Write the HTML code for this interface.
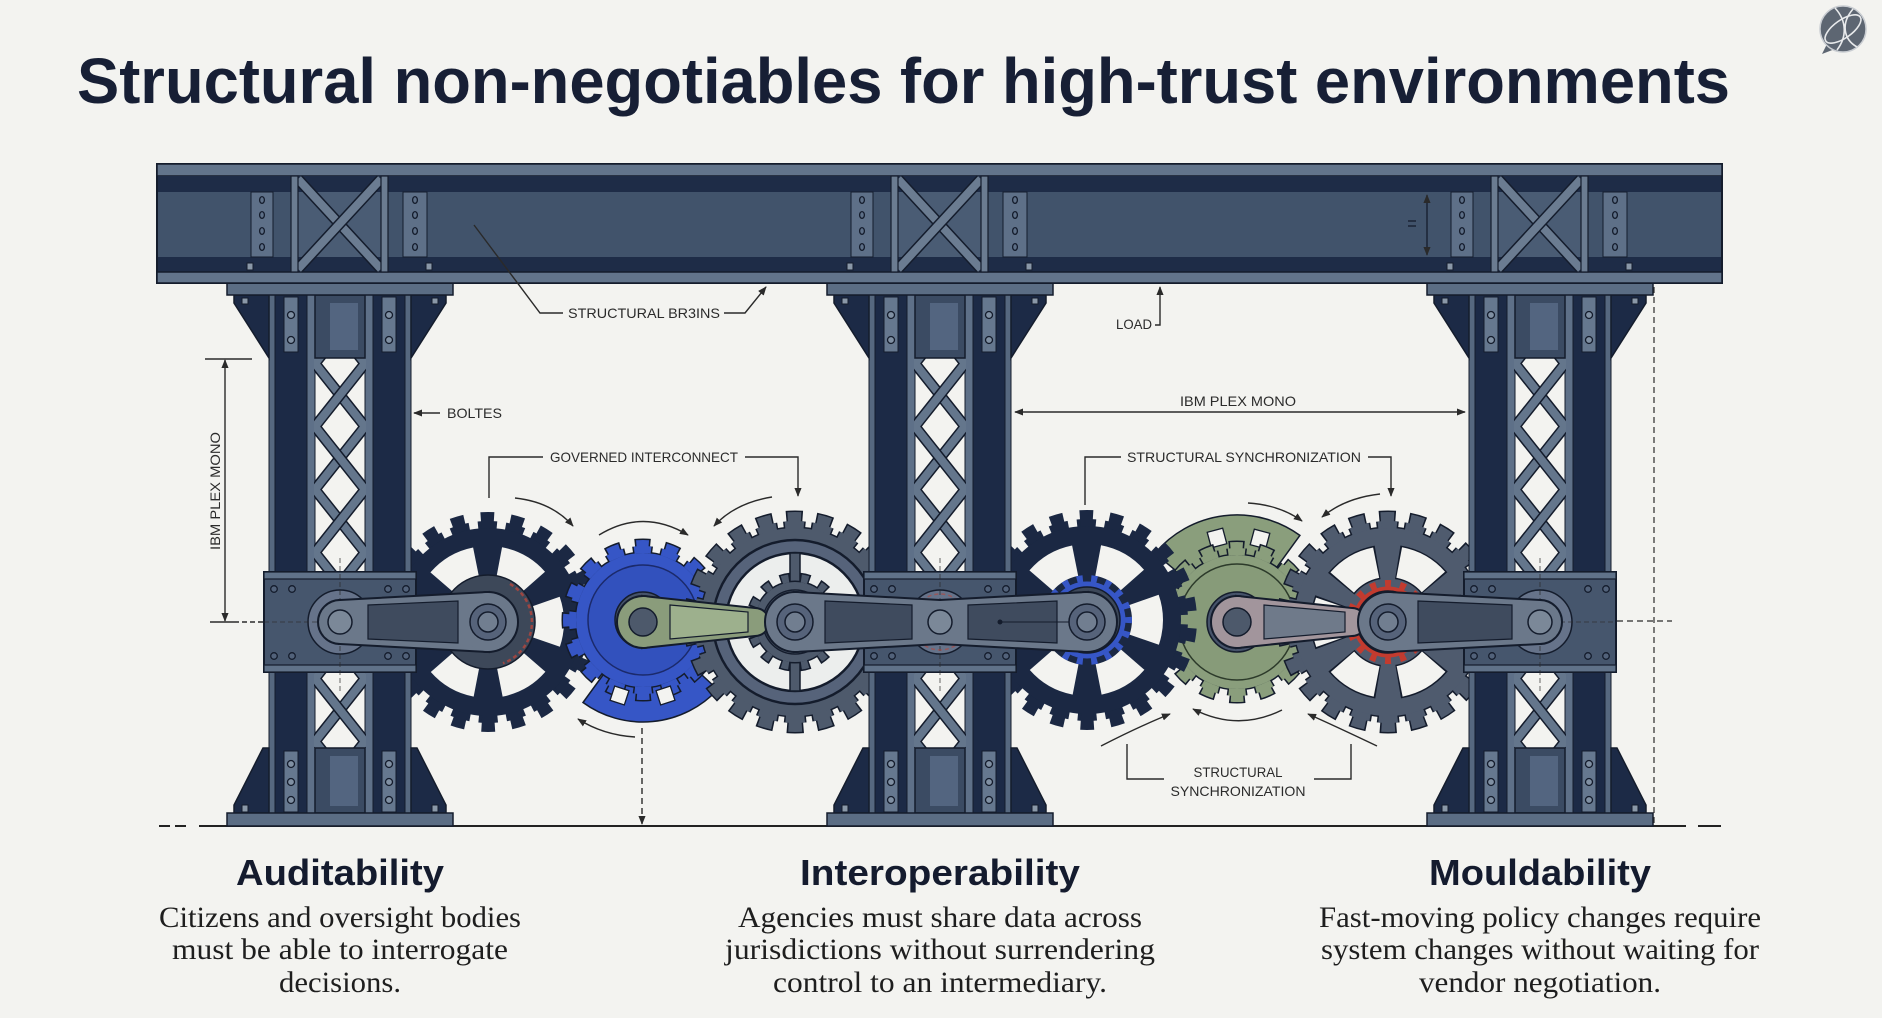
<!DOCTYPE html>
<html><head><meta charset="utf-8"><style>
html,body{margin:0;padding:0;background:#f3f3f0;}
svg{display:block;}
</style></head><body>
<svg width="1882" height="1018" viewBox="0 0 1882 1018" xmlns="http://www.w3.org/2000/svg">
<defs>
<marker id="ah" viewBox="0 0 10 10" refX="9" refY="5" markerWidth="9" markerHeight="9" markerUnits="userSpaceOnUse" orient="auto-start-reverse"><path d="M0,1 L10,5 L0,9 z" fill="#2a2a2a"/></marker>
<clipPath id="latclip"><rect x="-26" y="358" width="52" height="390"/></clipPath>
<g id="col">
<rect x="-71" y="295" width="142" height="518" fill="#1c2a46"/>
<rect x="-25" y="358" width="50" height="390" fill="#f3f3f0"/>
<rect x="-71" y="295" width="6" height="518" fill="#56687f" stroke="#141c2c" stroke-width="1"/>
<rect x="65" y="295" width="6" height="518" fill="#56687f" stroke="#141c2c" stroke-width="1"/>
<rect x="-33" y="295" width="8" height="518" fill="#5e7088" stroke="#141c2c" stroke-width="1"/>
<rect x="25" y="295" width="8" height="518" fill="#5e7088" stroke="#141c2c" stroke-width="1"/>
<g clip-path="url(#latclip)" fill="none">
<polyline points="25,300.5 -25,363.5 25,426.5 -25,489.5 25,552.5 -25,615.5 25,678.5 -25,741.5 25,804.5" stroke="#141c2c" stroke-width="11"/>
<polyline points="25,300.5 -25,363.5 25,426.5 -25,489.5 25,552.5 -25,615.5 25,678.5 -25,741.5 25,804.5" stroke="#64768c" stroke-width="8"/>
<polyline points="-25,300.5 25,363.5 -25,426.5 25,489.5 -25,552.5 25,615.5 -25,678.5 25,741.5 -25,804.5" stroke="#141c2c" stroke-width="11"/>
<polyline points="-25,300.5 25,363.5 -25,426.5 25,489.5 -25,552.5 25,615.5 -25,678.5 25,741.5 -25,804.5" stroke="#64768c" stroke-width="8"/>
</g>
<rect x="-25" y="295" width="50" height="63" fill="#3b4b63" stroke="#141c2c" stroke-width="1.5"/>
<rect x="-10" y="303" width="28" height="47" fill="#536580"/>
<rect x="-25" y="748" width="50" height="65" fill="#3b4b63" stroke="#141c2c" stroke-width="1.5"/>
<rect x="-10" y="756" width="28" height="50" fill="#536580"/>
<polygon points="-106,295 -71,295 -71,358 -106,303" fill="#1c2a46" stroke="#141c2c" stroke-width="1.5"/>
<polygon points="106,295 71,295 71,358 106,303" fill="#1c2a46" stroke="#141c2c" stroke-width="1.5"/>
<polygon points="-77,748 -71,748 -71,813 -106,813 -106,805" fill="#1c2a46" stroke="#141c2c" stroke-width="1.5"/>
<polygon points="77,748 71,748 71,813 106,813 106,805" fill="#1c2a46" stroke="#141c2c" stroke-width="1.5"/>
<rect x="-113" y="283" width="226" height="12" fill="#5b6d84" stroke="#141c2c" stroke-width="1.5"/>
<rect x="-113" y="813" width="226" height="13" fill="#5b6d84" stroke="#141c2c" stroke-width="1.5"/>
<g fill="#66788f" stroke="#141c2c" stroke-width="1">
<rect x="-56" y="297" width="14" height="55"/><rect x="42" y="297" width="14" height="55"/>
<rect x="-56" y="751" width="14" height="61"/><rect x="42" y="751" width="14" height="61"/>
</g>
<g fill="#8090a3" stroke="#141c2c" stroke-width="1.3">
<circle cx="-49" cy="315" r="3.5"/><circle cx="-49" cy="340" r="3.5"/>
<circle cx="49" cy="315" r="3.5"/><circle cx="49" cy="340" r="3.5"/>
<circle cx="-49" cy="764" r="3.5"/><circle cx="-49" cy="782" r="3.5"/><circle cx="-49" cy="800" r="3.5"/>
<circle cx="49" cy="764" r="3.5"/><circle cx="49" cy="782" r="3.5"/><circle cx="49" cy="800" r="3.5"/>
</g>
<g fill="#8a98a8" stroke="#141c2c" stroke-width="1">
<rect x="-98" y="298" width="6" height="6"/><rect x="92" y="298" width="6" height="6"/>
<rect x="-98" y="805" width="6" height="7"/><rect x="92" y="805" width="6" height="7"/>
</g>
</g>
<g id="stiff">
<rect x="-49" y="192" width="97" height="65" fill="#4a5c74"/>
<rect x="-89" y="192" width="22" height="65" fill="#5e7088" stroke="#141c2c" stroke-width="1"/>
<rect x="63" y="192" width="24" height="65" fill="#5e7088" stroke="#141c2c" stroke-width="1"/>
<g fill="none" stroke="#141c2c" stroke-width="1.3">
<ellipse cx="-78" cy="200" rx="2.4" ry="3.4"/><ellipse cx="-78" cy="215" rx="2.4" ry="3.4"/><ellipse cx="-78" cy="231" rx="2.4" ry="3.4"/><ellipse cx="-78" cy="247" rx="2.4" ry="3.4"/>
<ellipse cx="75" cy="200" rx="2.4" ry="3.4"/><ellipse cx="75" cy="215" rx="2.4" ry="3.4"/><ellipse cx="75" cy="231" rx="2.4" ry="3.4"/><ellipse cx="75" cy="247" rx="2.4" ry="3.4"/>
</g>
<line x1="-42" y1="179" x2="41" y2="269" stroke="#141c2c" stroke-width="11"/>
<line x1="-42" y1="179" x2="41" y2="269" stroke="#6b7c91" stroke-width="8"/>
<line x1="41" y1="179" x2="-42" y2="269" stroke="#141c2c" stroke-width="11"/>
<line x1="41" y1="179" x2="-42" y2="269" stroke="#6b7c91" stroke-width="8"/>
<rect x="-49" y="176" width="7" height="96" fill="#6b7c91" stroke="#141c2c" stroke-width="1.2"/>
<rect x="41" y="176" width="7" height="96" fill="#6b7c91" stroke="#141c2c" stroke-width="1.2"/>
<rect x="-93" y="263" width="6" height="7" fill="#8a98a8" stroke="#141c2c" stroke-width="1"/>
<rect x="86" y="263" width="6" height="7" fill="#8a98a8" stroke="#141c2c" stroke-width="1"/>
</g>
<g id="mount">
<rect x="-76" y="572" width="152" height="100" fill="#46566d" stroke="#141c2c" stroke-width="2"/>
<rect x="-76" y="572" width="152" height="7" fill="#607289" stroke="#141c2c" stroke-width="1.2"/>
<rect x="-76" y="665" width="152" height="7" fill="#607289" stroke="#141c2c" stroke-width="1.2"/>
<g fill="#52627a" stroke="#141c2c" stroke-width="1.3">
<circle cx="-66" cy="589" r="3.3"/><circle cx="-48" cy="589" r="3.3"/><circle cx="48" cy="589" r="3.3"/><circle cx="66" cy="589" r="3.3"/>
<circle cx="-66" cy="656" r="3.3"/><circle cx="-48" cy="656" r="3.3"/><circle cx="48" cy="656" r="3.3"/><circle cx="66" cy="656" r="3.3"/>
</g>
<circle cx="0" cy="622" r="32" fill="#66738a" stroke="#141c2c" stroke-width="1.5"/>
<line x1="0" y1="558" x2="0" y2="692" stroke="#2a2a2a" stroke-width="1" stroke-dasharray="5 3" opacity=".7"/>
<line x1="-76" y1="622" x2="76" y2="622" stroke="#2a2a2a" stroke-width="1" stroke-dasharray="5 3" opacity=".6"/>
</g>
</defs>

<rect width="1882" height="1018" fill="#f3f3f0"/>

<!-- Title -->
<text x="77" y="103" font-family="'Liberation Sans', Arial, sans-serif" font-weight="700" font-size="64" fill="#171f35" textLength="1653" lengthAdjust="spacingAndGlyphs">Structural non-negotiables for high-trust environments</text>

<!-- Logo -->
<g transform="translate(1843,29)">
<path d="M-16,15 L-21,25 L-8,20 z" fill="#5d6672"/>
<circle r="23" fill="#5d6672" stroke="#c9cdd2" stroke-width="1.5"/>
<g fill="none" stroke="#e8eaec" stroke-width="1.6">
<ellipse rx="21" ry="9" transform="rotate(-35)"/>
<path d="M-8,-21 C4,-8 4,8 -6,21"/>
<path d="M10,-20 C-2,-6 0,10 14,18"/>
</g>
</g>

<!-- Ground line -->
<line x1="199" y1="826" x2="1686" y2="826" stroke="#222" stroke-width="2"/>
<line x1="159" y1="826" x2="170" y2="826" stroke="#222" stroke-width="2"/>
<line x1="175" y1="826" x2="186" y2="826" stroke="#222" stroke-width="2"/>
<line x1="1698" y1="826" x2="1721" y2="826" stroke="#222" stroke-width="2"/>

<!-- ===== GEARS ===== -->
<!-- Gear 1 navy -->
<g>
<circle cx="488" cy="622" r="97" fill="none" stroke="#1b2843" stroke-width="8" pathLength="360" stroke-dasharray="11.2 5.1636" stroke-dashoffset="-2.58"/>
<circle cx="488" cy="622" r="101.5" fill="none" stroke="#1b2843" stroke-width="17" pathLength="360" stroke-dasharray="7.34 9.0236" stroke-dashoffset="-4.51"/>
<circle cx="488" cy="622" r="94" fill="#1b2843"/>
<circle cx="488" cy="622" r="60.5" fill="none" stroke="#f3f3f0" stroke-width="31" pathLength="360" stroke-dasharray="38 22" stroke-dashoffset="19"/>
<circle cx="488" cy="622" r="47" fill="#3d4859" stroke="#141c2c" stroke-width="1.5"/>
<path d="M510,583.9 A44 44 0 0 1 503,663.3" fill="none" stroke="#b5463c" stroke-width="2.5" stroke-dasharray="4 3" opacity=".8"/>
</g>

<!-- Gear 2 blue -->
<g>
<path d="M717.6,689.6 A102 102 0 0 1 583,702.5 L607.7,668.5 A60 60 0 0 0 686.9,660.9 Z" fill="#3656c6" stroke="#141c2c" stroke-width="1.5"/>
<circle cx="643" cy="620" r="70.5" fill="none" stroke="#141c2c" stroke-width="7" pathLength="360" stroke-dasharray="16.25 6.25" stroke-dashoffset="8.13"/>
<circle cx="643" cy="620" r="73.5" fill="none" stroke="#141c2c" stroke-width="16" pathLength="360" stroke-dasharray="11.7 10.8" stroke-dashoffset="5.85"/>
<circle cx="643" cy="620" r="68.5" fill="#141c2c"/>
<circle cx="643" cy="620" r="70.5" fill="none" stroke="#3656c6" stroke-width="7" pathLength="360" stroke-dasharray="13.8 8.7" stroke-dashoffset="6.9"/>
<circle cx="643" cy="620" r="73.5" fill="none" stroke="#3656c6" stroke-width="13" pathLength="360" stroke-dasharray="9.35 13.15" stroke-dashoffset="4.675"/>
<circle cx="643" cy="620" r="67" fill="#3656c6"/>
<rect x="612" y="688" width="15" height="15" fill="#f3f3f0" stroke="#141c2c" stroke-width="1.3" transform="rotate(18 619.5 695.5)"/>
<rect x="658" y="688" width="15" height="15" fill="#f3f3f0" stroke="#141c2c" stroke-width="1.3" transform="rotate(-18 665.5 695.5)"/>
<circle cx="643" cy="620" r="55" fill="#3251bd" stroke="#1b2a6b" stroke-width="1.5"/>
<circle cx="643" cy="620" r="28" fill="#46536a" stroke="#141c2c" stroke-width="1.5"/>
</g>

<!-- Gear 3 gray -->
<g>
<circle cx="795" cy="622" r="97" fill="none" stroke="#141c2c" stroke-width="8" pathLength="360" stroke-dasharray="13 3.3636" stroke-dashoffset="-1.68"/>
<circle cx="795" cy="622" r="101.5" fill="none" stroke="#141c2c" stroke-width="20" pathLength="360" stroke-dasharray="9.03 7.3336" stroke-dashoffset="-3.66"/>
<circle cx="795" cy="622" r="95.5" fill="#141c2c"/>
<circle cx="795" cy="622" r="97" fill="none" stroke="#4e5a6c" stroke-width="8" pathLength="360" stroke-dasharray="11.2 5.1636" stroke-dashoffset="-2.58"/>
<circle cx="795" cy="622" r="101.5" fill="none" stroke="#4e5a6c" stroke-width="17" pathLength="360" stroke-dasharray="7.34 9.0236" stroke-dashoffset="-4.51"/>
<circle cx="795" cy="622" r="94" fill="#4e5a6c"/>
<circle cx="795" cy="622" r="82" fill="#56637a" stroke="#141c2c" stroke-width="2.5"/>
<circle cx="795" cy="622" r="69" fill="#eceeed" stroke="#141c2c" stroke-width="2.5"/>
<rect x="790" y="553" width="10" height="138" fill="#4e5a6c" stroke="#141c2c" stroke-width="1.5"/>
<circle cx="795" cy="622" r="44" fill="none" stroke="#141c2c" stroke-width="11" pathLength="360" stroke-dasharray="13 12.714" stroke-dashoffset="6.5"/>
<circle cx="795" cy="622" r="41.5" fill="#141c2c"/>
<circle cx="795" cy="622" r="44" fill="none" stroke="#4e5a6c" stroke-width="8" pathLength="360" stroke-dasharray="9.1 16.614" stroke-dashoffset="4.55"/>
<circle cx="795" cy="622" r="40" fill="#4e5a6c"/>
<circle cx="795" cy="622" r="32" fill="#5c697c" stroke="#141c2c" stroke-width="1.5"/>
</g>

<!-- Gear 5 green (behind gear 4) -->
<g>
<path d="M1155,553.2 A107 107 0 0 1 1299.9,535.4 L1272.3,573.5 A60 60 0 0 0 1191,583.4 Z" fill="#8a9e7c" stroke="#141c2c" stroke-width="1.5"/>
<rect x="1209" y="530" width="16" height="16" fill="#f3f3f0" stroke="#141c2c" stroke-width="1.3" transform="rotate(-15 1217 538)"/>
<rect x="1252" y="531" width="16" height="16" fill="#f3f3f0" stroke="#141c2c" stroke-width="1.3" transform="rotate(15 1260 539)"/>
<circle cx="1237" cy="622" r="70.5" fill="none" stroke="#141c2c" stroke-width="7" pathLength="360" stroke-dasharray="16.25 6.25" stroke-dashoffset="8.13"/>
<circle cx="1237" cy="622" r="73.5" fill="none" stroke="#141c2c" stroke-width="16" pathLength="360" stroke-dasharray="11.7 10.8" stroke-dashoffset="5.85"/>
<circle cx="1237" cy="622" r="68.5" fill="#141c2c"/>
<circle cx="1237" cy="622" r="70.5" fill="none" stroke="#8a9e7c" stroke-width="7" pathLength="360" stroke-dasharray="13.8 8.7" stroke-dashoffset="6.9"/>
<circle cx="1237" cy="622" r="73.5" fill="none" stroke="#8a9e7c" stroke-width="13" pathLength="360" stroke-dasharray="9.35 13.15" stroke-dashoffset="4.675"/>
<circle cx="1237" cy="622" r="67" fill="#8a9e7c"/>
<circle cx="1237" cy="622" r="58" fill="#879b79" stroke="#2c3a2a" stroke-width="1.5"/>
<circle cx="1237" cy="622" r="30" fill="#46536a" stroke="#141c2c" stroke-width="1.5"/>
</g>

<!-- Gear 4 navy -->
<g>
<circle cx="1087" cy="620" r="97" fill="none" stroke="#1b2843" stroke-width="8" pathLength="360" stroke-dasharray="11.2 5.1636" stroke-dashoffset="-2.58"/>
<circle cx="1087" cy="620" r="101.5" fill="none" stroke="#1b2843" stroke-width="17" pathLength="360" stroke-dasharray="7.34 9.0236" stroke-dashoffset="-4.51"/>
<circle cx="1087" cy="620" r="94" fill="#1b2843"/>
<circle cx="1087" cy="620" r="60.5" fill="none" stroke="#f3f3f0" stroke-width="31" pathLength="360" stroke-dasharray="38 22" stroke-dashoffset="19"/>
<circle cx="1087" cy="620" r="41.5" fill="none" stroke="#3656c6" stroke-width="7" pathLength="360" stroke-dasharray="8.3 11.7" stroke-dashoffset="4.15"/>
<circle cx="1087" cy="620" r="38.5" fill="#3656c6"/>
<circle cx="1087" cy="620" r="33" fill="#3d4859" stroke="#141c2c" stroke-width="1.5"/>
</g>

<!-- Gear 6 gray -->
<g>
<circle cx="1388" cy="622" r="97" fill="none" stroke="#141c2c" stroke-width="8" pathLength="360" stroke-dasharray="13 3.3636" stroke-dashoffset="-1.68"/>
<circle cx="1388" cy="622" r="101.5" fill="none" stroke="#141c2c" stroke-width="20" pathLength="360" stroke-dasharray="9.03 7.3336" stroke-dashoffset="-3.66"/>
<circle cx="1388" cy="622" r="95.5" fill="#141c2c"/>
<circle cx="1388" cy="622" r="97" fill="none" stroke="#4f5b6e" stroke-width="8" pathLength="360" stroke-dasharray="11.2 5.1636" stroke-dashoffset="-2.58"/>
<circle cx="1388" cy="622" r="101.5" fill="none" stroke="#4f5b6e" stroke-width="17" pathLength="360" stroke-dasharray="7.34 9.0236" stroke-dashoffset="-4.51"/>
<circle cx="1388" cy="622" r="94" fill="#4f5b6e"/>
<circle cx="1388" cy="622" r="60.5" fill="none" stroke="#141c2c" stroke-width="34" pathLength="360" stroke-dasharray="40.84 19.16" stroke-dashoffset="20.42"/>
<circle cx="1388" cy="622" r="60.5" fill="none" stroke="#f3f3f0" stroke-width="31" pathLength="360" stroke-dasharray="38 22" stroke-dashoffset="19"/>
<circle cx="1388" cy="622" r="38.5" fill="none" stroke="#c23b2f" stroke-width="7" pathLength="360" stroke-dasharray="8.9 13.6" stroke-dashoffset="4.45"/>
<circle cx="1388" cy="622" r="35.5" fill="#c23b2f"/>
<circle cx="1388" cy="622" r="31" fill="#3d4859" stroke="#141c2c" stroke-width="1.5"/>
</g>

<!-- ===== COLUMNS ===== -->
<use href="#col" x="340"/>
<use href="#col" x="940"/>
<use href="#col" x="1540"/>

<!-- ===== BEAM ===== -->
<rect x="157" y="164" width="1565" height="119" fill="#41536b" stroke="#141c2c" stroke-width="2"/>
<rect x="157" y="164" width="1565" height="12" fill="#62748b" stroke="#141c2c" stroke-width="1.5"/>
<rect x="158" y="176" width="1563" height="16" fill="#1e2c47"/>
<rect x="158" y="257" width="1563" height="15" fill="#1e2c47"/>
<rect x="157" y="272" width="1565" height="11" fill="#62748b" stroke="#141c2c" stroke-width="1.5"/>
<use href="#stiff" x="340"/>
<use href="#stiff" x="940"/>
<use href="#stiff" x="1540"/>
<line x1="1427" y1="195" x2="1427" y2="255" stroke="#141c2c" stroke-width="1.3" marker-start="url(#ah)" marker-end="url(#ah)"/>
<line x1="1408" y1="221" x2="1416" y2="221" stroke="#141c2c" stroke-width="1.3"/>
<line x1="1408" y1="226" x2="1416" y2="226" stroke="#141c2c" stroke-width="1.3"/>

<!-- ===== MOUNTS ===== -->
<use href="#mount" x="340"/>
<use href="#mount" x="940"/>
<use href="#mount" x="1540"/>
<circle cx="940" cy="622" r="28" fill="none" stroke="#b5463c" stroke-width="1.5" stroke-dasharray="4 3" opacity=".6"/>

<!-- ===== ARMS ===== -->
<g stroke="#141c2c" stroke-width="4" fill="#141c2c">
<polygon points="643,597 755,609 755,635 643,647"/><circle cx="643" cy="622" r="25"/><circle cx="755" cy="622" r="13"/>
<polygon points="1237,597 1352,609 1352,635 1237,647"/><circle cx="1237" cy="622" r="25"/><circle cx="1352" cy="622" r="13"/>
</g>
<g fill="#8a9c7b">
<polygon points="643,597 755,609 755,635 643,647"/><circle cx="643" cy="622" r="25"/><circle cx="755" cy="622" r="13"/>
</g>
<g fill="#a2959c">
<polygon points="1237,597 1352,609 1352,635 1237,647"/><circle cx="1237" cy="622" r="25"/><circle cx="1352" cy="622" r="13"/>
</g>
<polygon points="670,605 748,612 748,632 670,639" fill="#9db08d" stroke="#141c2c" stroke-width="1.2"/>
<polygon points="1264,605 1345,612 1345,632 1264,639" fill="#6f7a8a" stroke="#141c2c" stroke-width="1.2"/>
<circle cx="643" cy="622" r="14" fill="#4d596b" stroke="#141c2c" stroke-width="1.5"/>
<circle cx="1237" cy="622" r="14" fill="#4d596b" stroke="#141c2c" stroke-width="1.5"/>

<g stroke="#141c2c" stroke-width="4" fill="#141c2c">
<polygon points="340,601 488,593 488,651 340,643"/><circle cx="488" cy="622" r="29"/><circle cx="340" cy="622" r="21"/>
<polygon points="795,593 940,601 940,643 795,651"/><circle cx="795" cy="622" r="29"/><circle cx="940" cy="622" r="21"/>
<polygon points="940,601 1087,593 1087,651 940,643"/><circle cx="1087" cy="622" r="29"/>
<polygon points="1388,593 1540,601 1540,643 1388,651"/><circle cx="1388" cy="622" r="29"/><circle cx="1540" cy="622" r="21"/>
</g>
<g fill="#6b788a">
<polygon points="340,601 488,593 488,651 340,643"/><circle cx="488" cy="622" r="29"/><circle cx="340" cy="622" r="21"/>
<polygon points="795,593 940,601 940,643 795,651"/><circle cx="795" cy="622" r="29"/><circle cx="940" cy="622" r="21"/>
<polygon points="940,601 1087,593 1087,651 940,643"/><circle cx="1087" cy="622" r="29"/>
<polygon points="1388,593 1540,601 1540,643 1388,651"/><circle cx="1388" cy="622" r="29"/><circle cx="1540" cy="622" r="21"/>
</g>
<g fill="#3f4b5e" stroke="#141c2c" stroke-width="1.2">
<polygon points="368,605 458,601 458,643 368,639"/>
<polygon points="825,601 912,605 912,639 825,643"/>
<polygon points="968,605 1057,601 1057,643 968,639"/>
<polygon points="1418,601 1512,605 1512,639 1418,643"/>
</g>
<line x1="1000" y1="622" x2="1087" y2="622" stroke="#141c2c" stroke-width="1"/>
<circle cx="1000" cy="622" r="2.5" fill="#141c2c"/>
<g stroke="#141c2c" stroke-width="1.5">
<circle cx="488" cy="622" r="18" fill="#56637a"/><circle cx="488" cy="622" r="10" fill="#717e90"/>
<circle cx="795" cy="622" r="18" fill="#56637a"/><circle cx="795" cy="622" r="10" fill="#717e90"/>
<circle cx="1087" cy="622" r="18" fill="#56637a"/><circle cx="1087" cy="622" r="10" fill="#717e90"/>
<circle cx="1388" cy="622" r="18" fill="#56637a"/><circle cx="1388" cy="622" r="10" fill="#717e90"/>
<circle cx="340" cy="622" r="12" fill="#7b8898"/>
<circle cx="940" cy="622" r="12" fill="#7b8898"/>
<circle cx="1540" cy="622" r="12" fill="#7b8898"/>
</g>

<!-- ===== ANNOTATIONS ===== -->
<g fill="none" stroke="#2a2a2a" stroke-width="1.4">
<polyline points="474,225 540,313 563,313"/>
<polyline points="724,313 745,313 766,287" marker-end="url(#ah)"/>
<polyline points="1155,325 1160,325 1160,287" marker-end="url(#ah)"/>
<line x1="1015" y1="412" x2="1465" y2="412" marker-start="url(#ah)" marker-end="url(#ah)"/>
<line x1="440" y1="413" x2="414" y2="413" marker-end="url(#ah)"/>
<line x1="225" y1="360" x2="225" y2="621" marker-start="url(#ah)" marker-end="url(#ah)"/>
<line x1="205" y1="359" x2="252" y2="359"/>
<line x1="210" y1="622" x2="234" y2="622"/>
<line x1="234" y1="622" x2="263" y2="622" stroke-dasharray="5 3"/>
<polyline points="489,498 489,457 543,457"/>
<polyline points="745,457 798,457 798,496" marker-end="url(#ah)"/>
<polyline points="1085,505 1085,457 1121,457"/>
<polyline points="1368,457 1391,457 1391,496" marker-end="url(#ah)"/>
<polyline points="1127,744 1127,779 1164,779"/>
<polyline points="1314,779 1351,779 1351,744"/>
<path d="M515,498 Q552,502 573,526" marker-end="url(#ah)"/>
<path d="M599,535 Q643,508 688,535" marker-end="url(#ah)"/>
<path d="M772,497 Q735,503 714,526" marker-end="url(#ah)"/>
<path d="M635,737 Q603,735 578,719" marker-end="url(#ah)"/>
<path d="M1248,503 Q1280,505 1302,521" marker-end="url(#ah)"/>
<path d="M1380,494 Q1345,498 1322,517" marker-end="url(#ah)"/>
<path d="M1101,746 Q1140,726 1170,714" marker-end="url(#ah)"/>
<path d="M1282,710 Q1238,732 1193,709" marker-end="url(#ah)"/>
<path d="M1377,746 Q1335,726 1308,714" marker-end="url(#ah)"/>
<line x1="642" y1="728" x2="642" y2="824" stroke-dasharray="6 4" marker-end="url(#ah)"/>
<line x1="1654" y1="287" x2="1654" y2="826" stroke-dasharray="6 4" stroke-width="1.2"/>
<line x1="1617" y1="621" x2="1672" y2="621" stroke-dasharray="6 4" stroke-width="1.2"/>
</g>

<g font-family="'Liberation Sans', Arial, sans-serif" font-size="14" fill="#2b2b2b">
<text x="568" y="318" textLength="152" lengthAdjust="spacingAndGlyphs">STRUCTURAL BR3INS</text>
<text x="1116" y="329" textLength="36" lengthAdjust="spacingAndGlyphs">LOAD</text>
<text x="1180" y="406" textLength="116" lengthAdjust="spacingAndGlyphs">IBM PLEX MONO</text>
<text x="447" y="418" textLength="55" lengthAdjust="spacingAndGlyphs">BOLTES</text>
<text x="550" y="462" textLength="188" lengthAdjust="spacingAndGlyphs">GOVERNED INTERCONNECT</text>
<text x="1127" y="462" textLength="234" lengthAdjust="spacingAndGlyphs">STRUCTURAL SYNCHRONIZATION</text>
<text x="1193.5" y="777" textLength="89" lengthAdjust="spacingAndGlyphs">STRUCTURAL</text>
<text x="1170.5" y="796" textLength="135" lengthAdjust="spacingAndGlyphs">SYNCHRONIZATION</text>
<text x="-59" y="0" transform="translate(220,491) rotate(-90)" textLength="118" lengthAdjust="spacingAndGlyphs">IBM PLEX MONO</text>
</g>

<!-- ===== BOTTOM TEXT ===== -->
<g font-family="'Liberation Sans', Arial, sans-serif" font-weight="700" font-size="36" fill="#141b2e">
<text x="236" y="885" textLength="208" lengthAdjust="spacingAndGlyphs">Auditability</text>
<text x="800" y="885" textLength="280" lengthAdjust="spacingAndGlyphs">Interoperability</text>
<text x="1429" y="885" textLength="222" lengthAdjust="spacingAndGlyphs">Mouldability</text>
</g>
<g font-family="'Liberation Serif', 'Times New Roman', serif" font-size="30" fill="#1e1e1e">
<text x="159" y="927" textLength="362" lengthAdjust="spacingAndGlyphs">Citizens and oversight bodies</text>
<text x="172" y="959" textLength="336" lengthAdjust="spacingAndGlyphs">must be able to interrogate</text>
<text x="279" y="992" textLength="122" lengthAdjust="spacingAndGlyphs">decisions.</text>
<text x="738" y="927" textLength="404" lengthAdjust="spacingAndGlyphs">Agencies must share data across</text>
<text x="725" y="959" textLength="430" lengthAdjust="spacingAndGlyphs">jurisdictions without surrendering</text>
<text x="773" y="992" textLength="334" lengthAdjust="spacingAndGlyphs">control to an intermediary.</text>
<text x="1319" y="927" textLength="442" lengthAdjust="spacingAndGlyphs">Fast-moving policy changes require</text>
<text x="1321" y="959" textLength="438" lengthAdjust="spacingAndGlyphs">system changes without waiting for</text>
<text x="1419" y="992" textLength="242" lengthAdjust="spacingAndGlyphs">vendor negotiation.</text>
</g>
</svg>
</body></html>
